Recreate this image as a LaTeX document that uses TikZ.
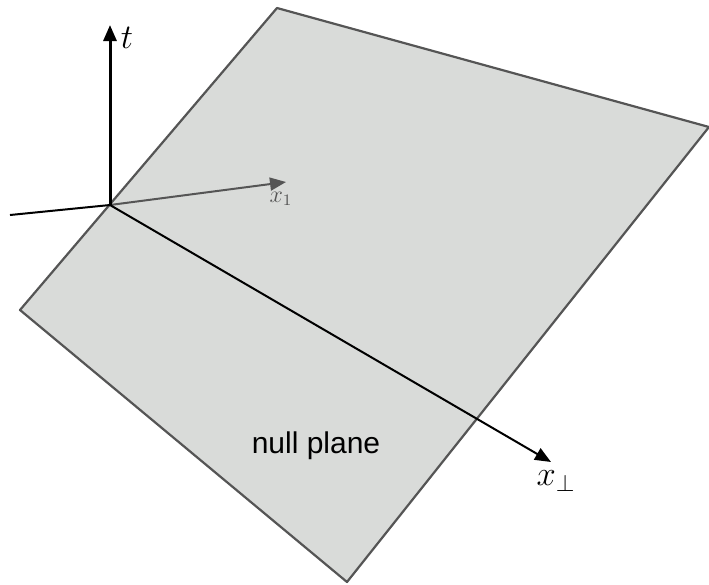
\documentclass[tikz,border=0pt]{standalone}
\usepackage{fontspec}
\setmainfont{Latin Modern Roman}
\newfontfamily\planefont{Liberation Sans}
\usetikzlibrary{arrows.meta,positioning}
\definecolor{planefill}{HTML}{D9DBD9}
\definecolor{planeedge}{HTML}{555555}
\tikzset{plane/.style={draw=planeedge,fill=planefill,line width=1.1pt,line join=round},
 axis/.style={-{Triangle[length=8pt,width=6.5pt]},line width=1pt},
 lbl/.style={inner sep=0pt,font=\fontsize{18}{22}\selectfont}}

\begin{document}
\begin{tikzpicture}[x=0.5pt,y=-0.5pt]
\useasboundingbox (0,0) rectangle (709,585);
\coordinate (top) at (277,8);
\coordinate (right) at (709,127);
\coordinate (bottom) at (347,582);
\coordinate (left) at (20,310);
\draw[plane] (top)--(right)--(bottom)--(left)--cycle;
\coordinate (origin) at (110,205);
\coordinate (back) at (10,215);
\node[lbl] (tip-t) at (110,25) {};
\node[lbl] (tip-x1) at (286,182) {};
\node[lbl] (tip-xp) at (551,462) {};
\draw[line width=1pt] (back)--(origin);
\draw[axis,draw=planeedge,fill=planeedge] (origin)--(tip-x1.center);
\draw[axis,line width=1.5pt] (origin)--(tip-t.center);
\draw[axis] (origin)--(tip-xp.center);
\node[lbl] (t) at (127,38) {$t$};
\node[lbl,text=planeedge,font=\fontsize{12}{14}\selectfont] (x1) at (281,199) {$x_1$};
\node[lbl] (xp) at (556,481) {$x_\perp$};
\node[lbl,font=\planefont\fontsize{15}{18}\selectfont] (name) at (316,446) {null plane};
\end{tikzpicture}
\end{document}
